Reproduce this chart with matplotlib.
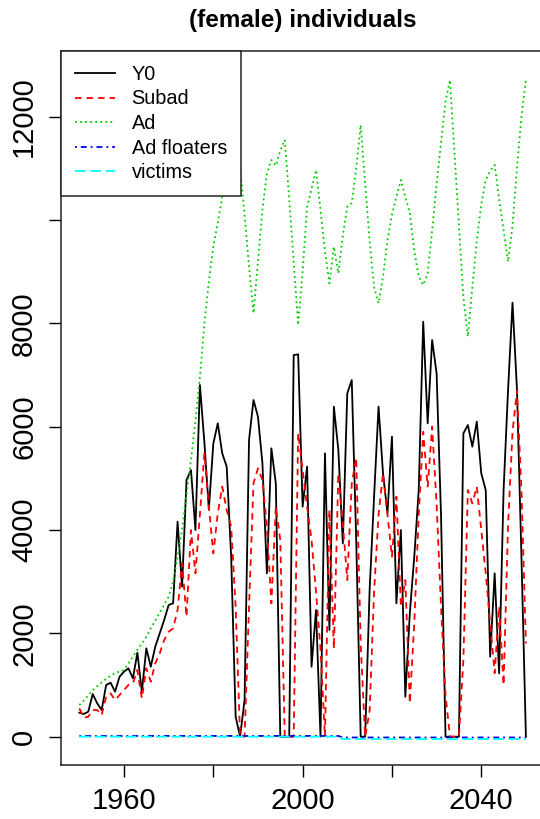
import numpy as np
import matplotlib
matplotlib.use('Agg')
import matplotlib.pyplot as plt

plt.rcParams['font.family'] = ['Liberation Sans', 'DejaVu Sans']

years = np.arange(1950, 2051)

# Y0 (juveniles)
y0 = [464, 440, 484, 826, 646, 516, 1000, 1045, 871, 1161,
      1258, 1323, 1130, 1626, 871, 1710, 1355, 1742, 2000, 2258,
      2549, 2581, 4161, 2903, 4968, 5161, 4000, 6807, 5700, 4400,
      5670, 6065, 5484, 5226, 3484, 390, 0, 710, 5742, 6516,
      6194, 5290, 3161, 5581, 4903, 0, 0, 0, 7387, 7400,
      4452, 5226, 1355, 2452, 0, 5484, 2065, 6387, 5548, 3742,
      6645, 6903, 3806, 0, 0, 2839, 4645, 6387, 5097, 4323,
      5806, 2581, 4000, 774, 2387, 3484, 4774, 8032, 6065, 7677,
      7032, 4258, 0, 0, 0, 0, 5871, 6032, 5613, 6097,
      5097, 4774, 1548, 3161, 1226, 4774, 6710, 8400, 6710, 3484,
      0]

subad = [549, 368, 387, 516, 516, 420, 774, 839, 710, 807,
         904, 1000, 1033, 1291, 743, 1323, 1065, 1420, 1613, 1871,
         2032, 2097, 2452, 3355, 2323, 4000, 3161, 4300, 5484, 4452,
         3549, 4323, 4839, 4387, 4065, 2516, 0, 0, 2516, 4903,
         5194, 4968, 4065, 2581, 4452, 3806, 0, 0, 0, 5871,
         5161, 4452, 3806, 2800, 1700, 0, 4387, 1700, 5097, 4130,
         3032, 4900, 5400, 1800, 0, 500, 2800, 4300, 5097, 4300,
         3484, 4645, 2516, 3032, 646, 2200, 4300, 5900, 4839, 6000,
         4500, 2500, 800, 0, 0, 0, 1500, 4774, 4516, 4839,
         4000, 3161, 2200, 1230, 2516, 1000, 4100, 5900, 6700, 4774,
         1806]

ad = [613, 700, 800, 900, 980, 1050, 1120, 1180, 1230, 1260,
      1290, 1420, 1550, 1680, 1800, 1935, 2100, 2250, 2400, 2550,
      2710, 3000, 3484, 4000, 4700, 5355, 6100, 6968, 8000, 8800,
      9484, 9950, 10450, 10700, 10900, 10950, 11030, 10100, 9100, 8194,
      9200, 10200, 10900, 11160, 11050, 11350, 11550, 10400, 9200, 7968,
      9000, 10258, 10600, 10968, 10200, 9400, 8774, 9484, 8968, 9700,
      10258, 10330, 11000, 11840, 10700, 9600, 8700, 8388, 8900, 9600,
      10100, 10450, 10774, 10450, 10130, 9400, 8900, 8742, 8968, 9800,
      10700, 11500, 12300, 12710, 11300, 9900, 8500, 7742, 8700, 9600,
      10300, 10774, 10950, 11065, 10400, 9800, 9194, 9900, 11000, 12000,
      12710]

floaters = [15] * 59 + [-15] * 42
victims = [0] * 59 + [-45] * 42

fig = plt.figure(figsize=(5.4, 8.19), dpi=100)
ax = fig.add_axes([0.113, 0.0659, 0.894, 0.8718])

lw = 1.3
ax.plot(years, y0, color='black', lw=lw, label='Y0')
ax.plot(years, subad, color='#ff0000', lw=lw, linestyle=(0, (3.6, 2.8)), label='Subad')
ax.plot(years, ad, color='#00cd00', lw=lw, linestyle=(0, (1, 1.8)), label='Ad')
ax.plot(years, floaters, color='#0000ff', lw=lw, linestyle=(0, (1, 2.2, 3.3, 2.2)), label='Ad floaters')
ax.plot(years, victims, color='#00ffff', lw=lw, linestyle=(0, (6, 2.5)), label='victims')

ax.set_xlim(1945.9, 2054)
ax.set_ylim(-548, 13270)

ax.set_xticks([1960, 1980, 2000, 2020, 2040])
ax.set_xticklabels(['1960', '', '2000', '', '2040'])
ax.set_yticks([0, 2000, 4000, 6000, 8000, 10000, 12000])
ax.set_yticklabels(['0', '2000', '4000', '6000', '8000', '', '12000'],
                   rotation=90, va='center')
ax.tick_params(axis='both', labelsize=21, length=8.5, width=1.0, color='black')
ax.tick_params(axis='x', pad=7)
ax.tick_params(axis='y', pad=8)

for s in ax.spines.values():
    s.set_linewidth(1.1)
    s.set_color('#222222')

ax.set_title('(female) individuals', fontsize=17.5, fontweight='bold', pad=17)

leg = ax.legend(loc='upper left', bbox_to_anchor=(0, 1), borderaxespad=0,
                fontsize=14.3, handlelength=2.0, handletextpad=0.85,
                labelspacing=0.28, borderpad=0.7, fancybox=False,
                framealpha=1, edgecolor='#222222')
leg.get_frame().set_linewidth(1.1)

fig.savefig('out.png', dpi=100)
